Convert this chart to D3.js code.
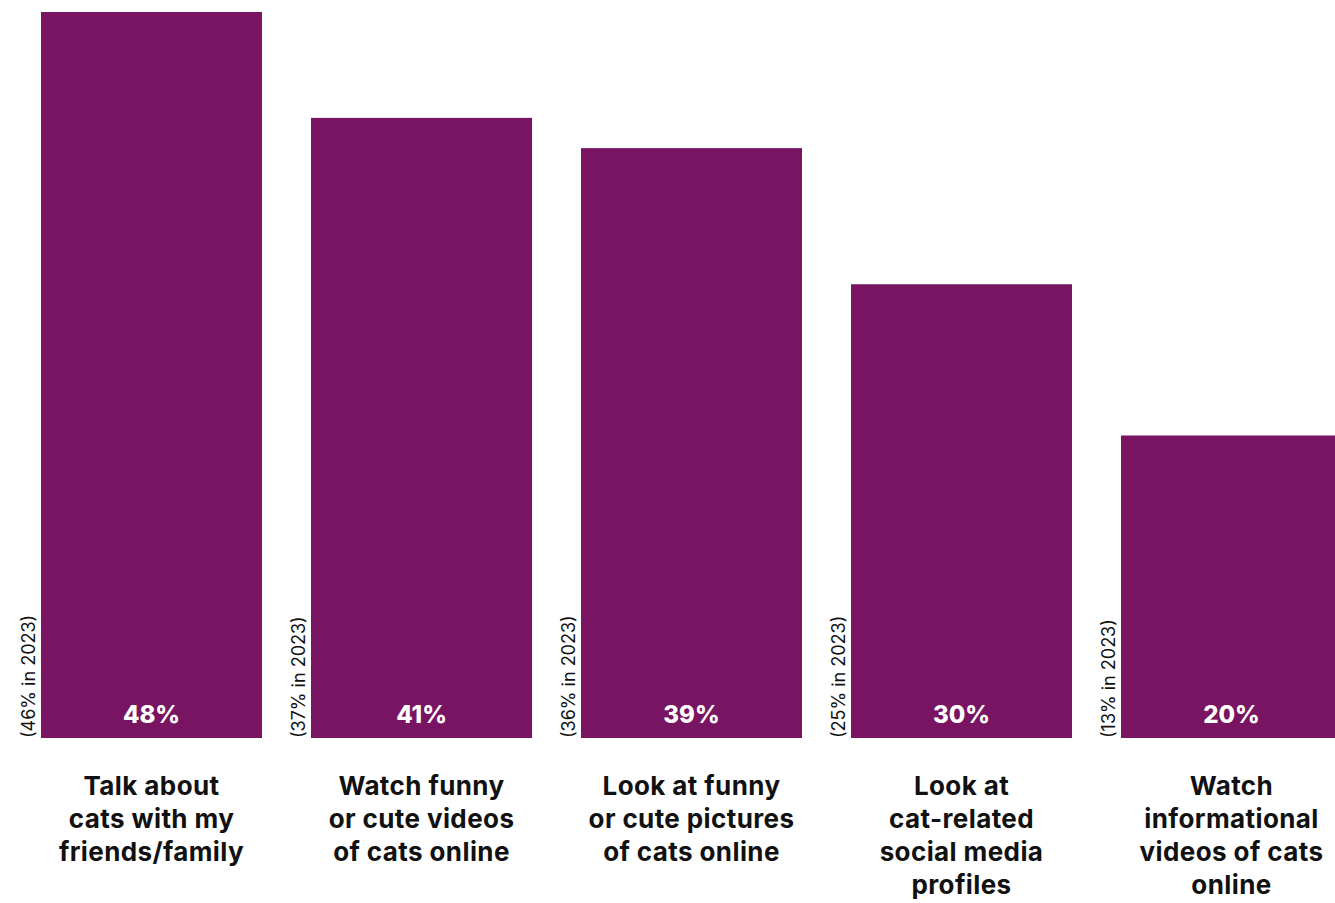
<!DOCTYPE html>
<html>
<head>
<meta charset="utf-8">
<script src="https://cdn.jsdelivr.net/npm/d3@7"></script>
<style>
  html, body { margin: 0; padding: 0; background: #fff; }
  svg { display: block; }
</style>
</head>
<body>
<svg id="chart" width="1335" height="903"></svg>
<script>
// Activities, share in 2024 and share in 2023
const categories = [
  ["Talk about", "cats with my", "friends/family"],
  ["Watch funny", "or cute videos", "of cats online"],
  ["Look at funny", "or cute pictures", "of cats online"],
  ["Look at", "cat-related", "social media", "profiles"],
  ["Watch", "informational", "videos of cats", "online"]
];
const values = [48, 41, 39, 30, 20];
const prevValues = [46, 37, 36, 25, 13];
const prevYear = "2023";

const data = categories.map((c, i) => ({ key: i, lines: c, value: values[i], prev: prevValues[i] }));

const svg = d3.select("#chart");
const baseY = 738;
const fontFam = "Inter, 'Liberation Sans', Arial, sans-serif";
const barColor = "#781462";

const x = d3.scaleBand()
  .domain(data.map(d => d.key))
  .range([41, 1342])
  .paddingInner(49 / 270)
  .paddingOuter(0);

const y = d3.scaleLinear().domain([0, 48]).range([baseY, 12]);

// Bars
svg.selectAll("rect.bar")
  .data(data)
  .join("rect")
  .attr("class", "bar")
  .attr("x", d => x(d.key))
  .attr("y", d => y(d.value))
  .attr("width", x.bandwidth())
  .attr("height", d => y(0) - y(d.value))
  .attr("fill", barColor);

// Value labels inside bars
svg.selectAll("text.value")
  .data(data)
  .join("text")
  .attr("class", "value")
  .attr("x", d => x(d.key) + x.bandwidth() / 2)
  .attr("y", 723)
  .attr("text-anchor", "middle")
  .attr("fill", "#fff")
  .attr("font-family", fontFam)
  .attr("font-weight", 800)
  .attr("font-size", 24)
  .text(d => d.value + "%");

// Previous-year notes, rotated beside each bar
svg.selectAll("text.prev")
  .data(data)
  .join("text")
  .attr("class", "prev")
  .attr("transform", d => `translate(${x(d.key) - 6},${baseY}) rotate(-90)`)
  .attr("text-anchor", "start")
  .attr("fill", "#111")
  .attr("font-family", fontFam)
  .attr("font-weight", 400)
  .attr("font-size", 18)
  .text(d => `(${d.prev}% in ${prevYear})`);

// Category labels under bars
const cat = svg.selectAll("text.cat")
  .data(data)
  .join("text")
  .attr("class", "cat")
  .attr("text-anchor", "middle")
  .attr("fill", "#111")
  .attr("font-family", fontFam)
  .attr("font-weight", 700)
  .attr("font-size", 26)
  .attr("letter-spacing", 0.4);

cat.selectAll("tspan")
  .data(d => d.lines.map(l => ({ l, cx: x(d.key) + x.bandwidth() / 2 })))
  .join("tspan")
  .attr("x", d => d.cx)
  .attr("y", (d, i) => 795 + i * 33)
  .text(d => d.l);
</script>
</body>
</html>
